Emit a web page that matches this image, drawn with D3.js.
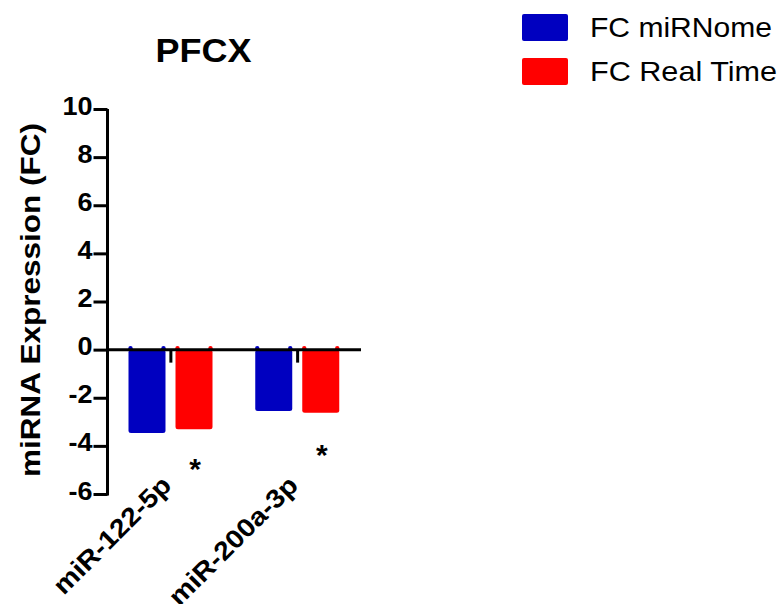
<!DOCTYPE html>
<html>
<head>
<meta charset="utf-8">
<script src="https://cdn.jsdelivr.net/npm/d3@7"></script>
<style>
  html, body { margin: 0; padding: 0; background: #fff; }
  svg { display: block; }
  text { font-family: "Liberation Sans", Arial, Helvetica, sans-serif; fill: #000; }
</style>
</head>
<body>
<svg id="chart" width="783" height="604"></svg>
<script>
// ---- data ----
const categories = ["miR-122-5p", "miR-200a-3p"];
const seriesNames = ["FC miRNome", "FC Real Time"];
const fcMiRNome = [-3.47, -2.55];
const fcRealTime = [-3.31, -2.62];
const asteriskValues = [-4.71, -4.09];   // significance marks, placed under the Real Time bars
const yTicks = [-6, -4, -2, 0, 2, 4, 6, 8, 10];
const title = "PFCX";
const yLabel = "miRNA Expression (FC)";
const colors = ["#0000C0", "#FF0000"];

const svg = d3.select("#chart");
const SX = 1.08; // horizontal stretch of text as in reference

const y = d3.scaleLinear().domain([-6, 10]).range([494, 109]);
const x0 = d3.scaleBand().domain(categories).range([107.5, 361]).padding(0);
const x1 = d3.scaleBand().domain(seriesNames).range([21, 105]).paddingInner(0.213).paddingOuter(0);

// bars
const seriesData = [fcMiRNome, fcRealTime];
categories.forEach((c, i) => {
  seriesNames.forEach((s, j) => {
    const v = seriesData[j][i];
    const bx = x0(c) + x1(s);
    const bw = x1.bandwidth();
    svg.append("rect")
      .attr("x", bx).attr("y", y(0))
      .attr("width", bw).attr("height", y(v) - y(0))
      .attr("rx", 2.5)
      .attr("fill", colors[j]);
    [bx + 2, bx + bw - 2].forEach(cx => {
      svg.append("circle").attr("cx", cx).attr("cy", y(0) - 1.5).attr("r", 2.2).attr("fill", colors[j]);
    });
  });
});

// y axis
const yAxis = d3.axisLeft(y).tickValues(yTicks).tickSize(14).tickSizeOuter(0).tickPadding(0);
const gy = svg.append("g").attr("transform", "translate(107.5,0)").call(yAxis);
gy.select(".domain").attr("stroke", "#000").attr("stroke-width", 3)
  .attr("d", `M0,${y(10)}V${y(-6) + 1.5}`);
gy.selectAll(".tick line").attr("stroke", "#000").attr("stroke-width", 3);
gy.selectAll(".tick text")
  .attr("x", null).attr("dy", null)
  .attr("font-size", 25).attr("font-weight", "bold")
  .attr("font-family", "'Liberation Sans', Arial, sans-serif")
  .attr("text-anchor", "end")
  .attr("transform", "translate(-15,5) scale(" + SX + ",1)")
  .text(d => d);

// x axis (zero line)
svg.append("line")
  .attr("x1", 107.5).attr("x2", 361)
  .attr("y1", y(0)).attr("y2", y(0))
  .attr("stroke", "#000").attr("stroke-width", 3);
categories.forEach(c => {
  const cx = x0(c) + x0.bandwidth() / 2;
  svg.append("line")
    .attr("x1", cx).attr("x2", cx)
    .attr("y1", y(0)).attr("y2", y(0) + 13)
    .attr("stroke", "#000").attr("stroke-width", 3);
  svg.append("text")
    .attr("text-anchor", "end")
    .attr("font-size", 26).attr("font-weight", "bold")
    .attr("transform", `translate(${cx + 2},487) rotate(-45) scale(1.1,1)`)
    .text(c);
});

// asterisks
categories.forEach((c, i) => {
  const cx = x0(c) + x1(seriesNames[1]) + x1.bandwidth() / 2 + 1;
  svg.append("text")
    .attr("text-anchor", "middle")
    .attr("font-size", 30).attr("font-weight", "bold")
    .attr("x", cx).attr("y", y(asteriskValues[i]) + 16.5)
    .text("*");
});

// title
svg.append("text")
  .attr("x", 203.5).attr("y", 62)
  .attr("text-anchor", "middle")
  .attr("font-size", 33).attr("font-weight", "bold")
  .attr("textLength", 96).attr("lengthAdjust", "spacingAndGlyphs")
  .text(title);

// y label
svg.append("text")
  .attr("transform", "translate(40,300) rotate(-90)")
  .attr("text-anchor", "middle")
  .attr("font-size", 28).attr("font-weight", "bold")
  .attr("textLength", 354).attr("lengthAdjust", "spacingAndGlyphs")
  .text(yLabel);

// legend
const legendY = [14, 58];
const legendW = [182, 187];
seriesNames.forEach((s, j) => {
  svg.append("rect")
    .attr("x", 522).attr("y", legendY[j])
    .attr("width", 46).attr("height", 27).attr("rx", 2)
    .attr("fill", colors[j]);
  svg.append("text")
    .attr("x", 590).attr("y", legendY[j] + 23)
    .attr("font-size", 28)
    .attr("textLength", legendW[j]).attr("lengthAdjust", "spacingAndGlyphs")
    .text(s);
});
</script>
</body>
</html>
